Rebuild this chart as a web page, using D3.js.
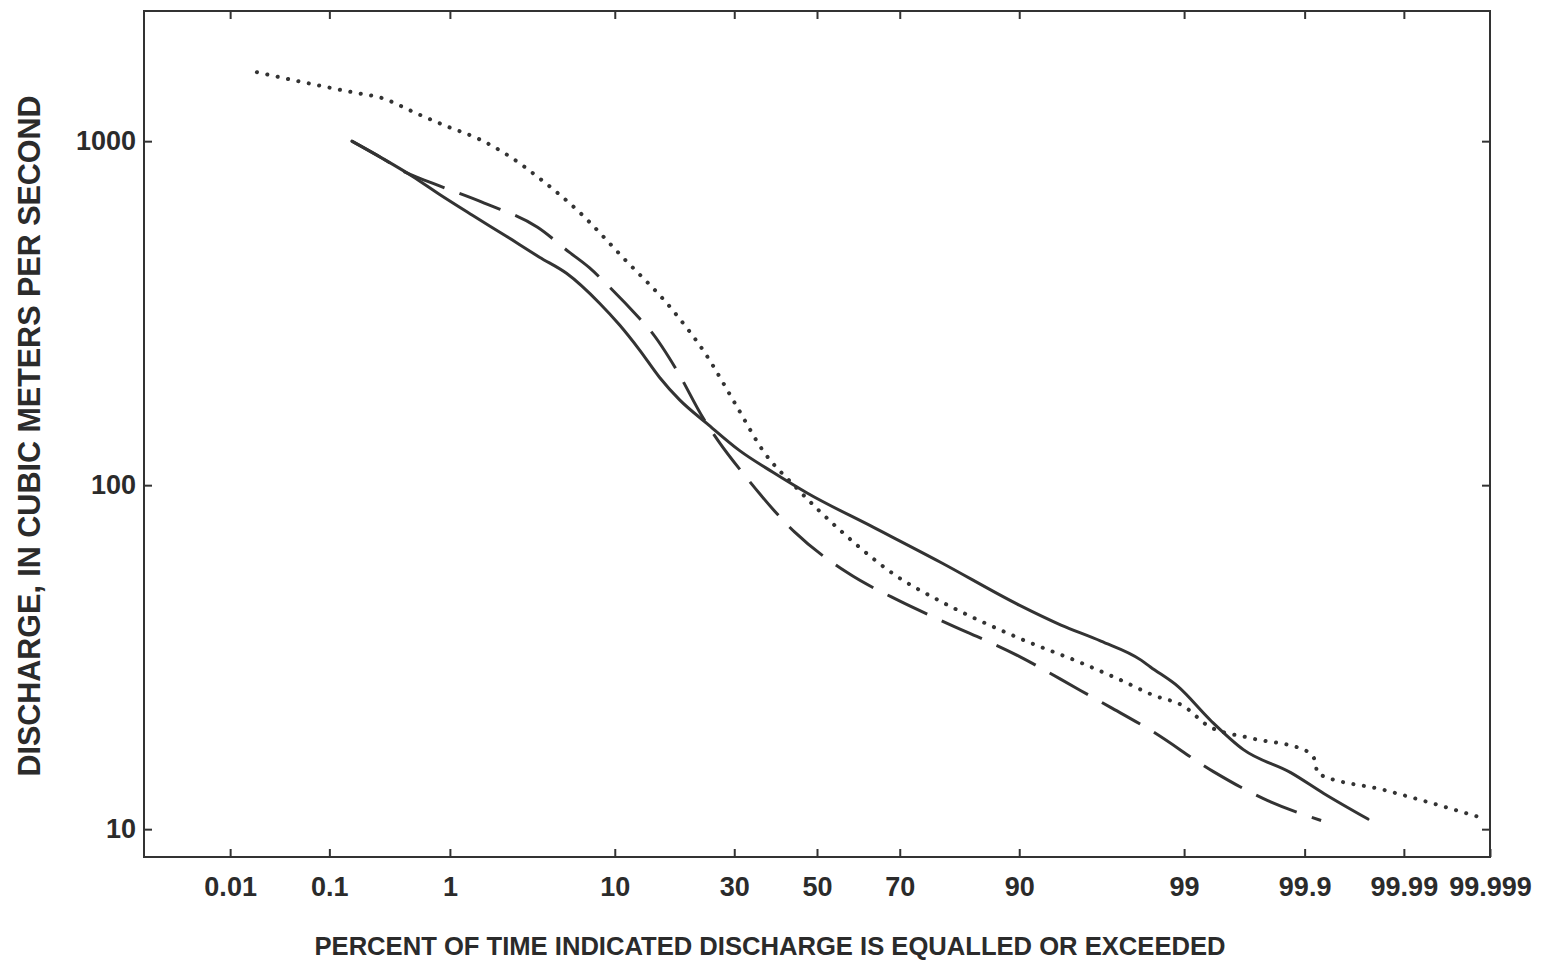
<!DOCTYPE html>
<html>
<head>
<meta charset="utf-8">
<script src="https://cdn.jsdelivr.net/npm/d3@7/dist/d3.min.js"></script>
<style>
  html, body { margin: 0; padding: 0; background: #fff; }
  svg { display: block; }
  text { font-family: "Liberation Sans", Arial, Helvetica, sans-serif; font-weight: bold; fill: #2b2b2b; }
</style>
</head>
<body>
<svg id="chart" width="1543" height="963"></svg>
<script>
// Flow-duration curves: percent of time exceeded (probability scale) vs discharge (log scale)

const pctTicks = [0.01, 0.1, 1, 10, 30, 50, 70, 90, 99, 99.9, 99.99, 99.999];
const pctLabels = ["0.01", "0.1", "1", "10", "30", "50", "70", "90", "99", "99.9", "99.99", "99.999"];
const qTicks = [10, 100, 1000];
const qLabels = ["10", "100", "1000"];

// Solid curve
const solidPct = [0.16, 0.293, 0.516, 0.834, 1.45, 2.45, 3.93, 5.62, 8.41, 10.55, 13.05, 15.9, 19.2, 24.3, 31.2, 39.0, 47.5, 63.9, 78.3, 90, 93.9, 96.4, 98.0, 98.27, 98.89, 99.37, 99.658, 99.866, 99.934, 99.976];
const solidQ   = [1000, 892, 791, 701, 609, 529, 460, 413, 338, 292, 247, 206, 177, 151, 126, 109, 94.9, 75.5, 59.7, 44.8, 39.2, 35.2, 31.0, 29.6, 26.0, 20.7, 17.0, 14.6, 12.7, 10.7];

// Dashed curve
const dashedPct = [0.16, 0.293, 0.462, 0.74, 1.75, 3.83, 5.84, 7.48, 8.92, 13.05, 14.7, 18.7, 23.5, 26.5, 32.8, 44.4, 57.5, 69.6, 78.3, 90, 95.25, 96.86, 98.27, 99.40, 99.786, 99.93];
const dashedQ   = [1000, 892, 810, 755, 661, 562, 475, 428, 389, 305, 279, 216, 157, 135, 105, 73.0, 55.8, 46.3, 40.5, 31.8, 25.3, 22.6, 19.4, 14.7, 12.1, 10.6];

// Dotted curve
const dottedPct = [0.0193, 0.0514, 0.161, 0.293, 0.554, 0.94, 1.62, 2.56, 3.93, 6.6, 10.9, 18.0, 23.9, 30.6, 36.6, 44.9, 55.8, 70.7, 76.9, 90, 95.25, 97.3, 98.35, 98.99, 99.35, 99.70, 99.899, 99.918, 99.925, 99.9837, 99.99872];
const dottedQ   = [1587, 1493, 1388, 1334, 1206, 1106, 1013, 904, 780, 622, 460, 323, 242, 169, 126, 98, 74, 52.9, 47.2, 35.9, 30.5, 27.1, 24.5, 22.8, 19.9, 18.4, 17.0, 16.1, 14.5, 13.0, 10.8];

// Inverse standard normal CDF (Acklam's rational approximation)
function probit(p) {
  const a = [-3.969683028665376e+01, 2.209460984245205e+02, -2.759285104469687e+02, 1.383577518672690e+02, -3.066479806614716e+01, 2.506628277459239e+00];
  const b = [-5.447609879822406e+01, 1.615858368580409e+02, -1.556989798598866e+02, 6.680131188771972e+01, -1.328068155288572e+01];
  const c = [-7.784894002430293e-03, -3.223964580411365e-01, -2.400758277161838e+00, -2.549732539343734e+00, 4.374664141464968e+00, 2.938163982698783e+00];
  const d = [7.784695709041462e-03, 3.224671290700398e-01, 2.445134137142996e+00, 3.754408661907416e+00];
  const pl = 0.02425, ph = 1 - pl;
  let q, r;
  if (p < pl) {
    q = Math.sqrt(-2 * Math.log(p));
    return (((((c[0]*q+c[1])*q+c[2])*q+c[3])*q+c[4])*q+c[5]) / ((((d[0]*q+d[1])*q+d[2])*q+d[3])*q+1);
  } else if (p <= ph) {
    q = p - 0.5; r = q * q;
    return (((((a[0]*r+a[1])*r+a[2])*r+a[3])*r+a[4])*r+a[5])*q / (((((b[0]*r+b[1])*r+b[2])*r+b[3])*r+b[4])*r+1);
  } else {
    q = Math.sqrt(-2 * Math.log(1 - p));
    return -(((((c[0]*q+c[1])*q+c[2])*q+c[3])*q+c[4])*q+c[5]) / ((((d[0]*q+d[1])*q+d[2])*q+d[3])*q+1);
  }
}

const plot = { left: 144, right: 1490, top: 11, bottom: 857 };
const svg = d3.select("#chart");

// x: linear in standard-normal deviate, spanning 0.001 to 99.999 percent
const zScale = d3.scaleLinear()
  .domain([probit(0.00001), probit(0.99999)])
  .range([plot.left, plot.right]);
const xPos = p => zScale(probit(p / 100));

const yScale = d3.scaleLog()
  .domain([8.3, 2390])
  .range([plot.bottom, plot.top]);

const ink = "#333";

// Axes (ticks point inward)
const zTicks = pctTicks.map(p => probit(p / 100));
const xAxisBottom = d3.axisBottom(zScale)
  .tickValues(zTicks)
  .tickFormat((d, i) => pctLabels[i])
  .tickSize(-8)
  .tickPadding(20);
const xAxisTop = d3.axisTop(zScale)
  .tickValues(zTicks.slice(0, -1))
  .tickFormat("")
  .tickSize(-8);
const yAxisLeft = d3.axisLeft(yScale)
  .tickValues(qTicks)
  .tickFormat((d, i) => qLabels[i])
  .tickSize(-8)
  .tickPadding(8);
const yAxisRight = d3.axisRight(yScale)
  .tickValues(qTicks)
  .tickFormat("")
  .tickSize(-8);

function styleAxis(g) {
  g.select(".domain").remove();
  g.selectAll(".tick line").attr("stroke", ink).attr("stroke-width", 2);
  g.selectAll(".tick text").attr("font-size", 27).attr("fill", "#2b2b2b");
}

svg.append("g").attr("transform", `translate(0,${plot.bottom})`).call(xAxisBottom).call(styleAxis);
svg.append("g").attr("transform", `translate(0,${plot.top})`).call(xAxisTop).call(styleAxis);
svg.append("g").attr("transform", `translate(${plot.left},0)`).call(yAxisLeft).call(styleAxis);
svg.append("g").attr("transform", `translate(${plot.right},0)`).call(yAxisRight).call(styleAxis);

// Plot frame
svg.append("rect")
  .attr("x", plot.left).attr("y", plot.top)
  .attr("width", plot.right - plot.left).attr("height", plot.bottom - plot.top)
  .attr("fill", "none").attr("stroke", ink).attr("stroke-width", 2);

// Curves
const line = d3.line()
  .x(d => xPos(d[0]))
  .y(d => yScale(d[1]))
  .curve(d3.curveMonotoneX);

const series = [
  { pct: dottedPct, q: dottedQ, dash: "0.1 10.5", width: 4, cap: "round" },
  { pct: dashedPct, q: dashedQ, dash: "44 16", width: 3, cap: "butt" },
  { pct: solidPct,  q: solidQ,  dash: null,     width: 3, cap: "round" }
];

series.forEach(s => {
  svg.append("path")
    .datum(s.pct.map((p, i) => [p, s.q[i]]))
    .attr("d", line)
    .attr("fill", "none")
    .attr("stroke", "#333")
    .attr("stroke-width", s.width)
    .attr("stroke-linecap", s.cap)
    .attr("stroke-linejoin", "round")
    .attr("stroke-dasharray", s.dash);
});

// Axis titles
svg.append("text")
  .attr("x", 770).attr("y", 955)
  .attr("text-anchor", "middle")
  .attr("font-size", 25.6)
  .text("PERCENT OF TIME INDICATED DISCHARGE IS EQUALLED OR EXCEEDED");

svg.append("text")
  .attr("transform", "translate(40,436) rotate(-90)")
  .attr("text-anchor", "middle")
  .attr("font-size", 30.5)
  .text("DISCHARGE, IN CUBIC METERS PER SECOND");
</script>
</body>
</html>
